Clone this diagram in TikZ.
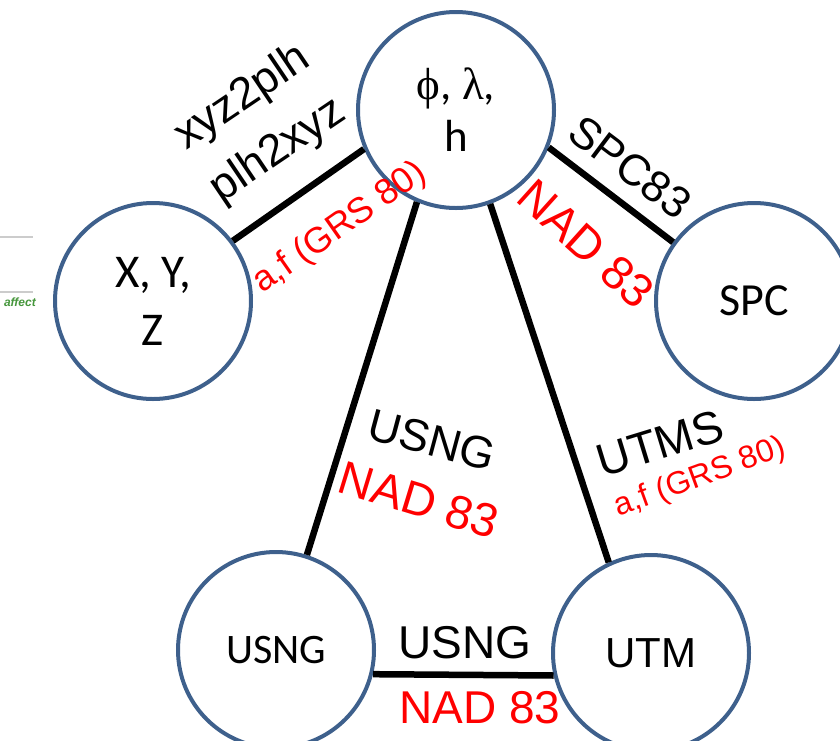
\documentclass[tikz,border=0pt]{standalone}
\usepackage{fontspec}
\setmainfont{Liberation Sans}
\newfontfamily\calfont{Carlito}
\newfontfamily\grkfont{Liberation Serif}
\usetikzlibrary{positioning}
\definecolor{ringblue}{RGB}{62,96,140}
\definecolor{scrapgreen}{RGB}{70,150,60}

\begin{document}
\begin{tikzpicture}[x=1pt, y=-1pt,
  station/.style={circle, draw=ringblue, line width=4pt, minimum size=196pt,
    inner sep=0pt, align=center},
  link/.style={line width=6.5pt},
  lbl/.style={inner sep=0pt, font=\fontsize{44}{44}\selectfont},
  note/.style={lbl, text=red}]
  \useasboundingbox (0,0) rectangle (840,740);

  % bits of the page behind, cut off at the left
  \draw[black!20, line width=2pt] (0,237) -- (33,237);
  \draw[black!20, line width=2pt] (0,292) -- (33,292);
  \node[text=scrapgreen, font=\fontsize{12}{12}\selectfont\bfseries\itshape,
    anchor=east, inner sep=0pt] (scrap) at (36,302) {affect};

  % Stations
  \node[station, font=\fontsize{45}{52}\selectfont\calfont] (geo) at (456,110)
    {{\grkfont ϕ}, {\grkfont λ},\\h};
  \node[station, font=\fontsize{47}{58}\selectfont\calfont] (xyz) at (153,301)
    {X, Y,\\Z};
  \node[station, font=\fontsize{46}{46}\selectfont\calfont] (spc) at (754,301) {SPC};
  \node[station, font=\fontsize{42}{42}\selectfont\calfont] (usng) at (276,650) {USNG};
  \node[station, font=\fontsize{42}{42}\selectfont] (utm) at (651,653) {UTM};

  % Links
  \foreach \a/\b in {xyz.37/geo.203, geo.-22/spc.144, geo.247/usng.72,
                     geo.-70/utm.115, usng.-14/utm.193}
    \draw[link] (\a) -- (\b);

  % Link labels
  \node[lbl, font=\fontsize{45}{45}\selectfont, rotate=34] (xp1) at (243,98) {xyz2plh};
  \node[lbl, font=\fontsize{45}{45}\selectfont, rotate=34] (xp2) at (278,151) {plh2xyz};
  \node[note, font=\fontsize{36}{36}\selectfont, rotate=35] (xp3) at (340,228) {a,f (GRS 80)};

  \node[lbl, font=\fontsize{44}{44}\selectfont, rotate=-37] (sp1) at (630,167) {SPC83};
  \node[note, font=\fontsize{47}{47}\selectfont, rotate=-42] (sp2) at (586,244) {NAD 83};

  \node[lbl, font=\fontsize{45}{45}\selectfont, rotate=-15] (ug1) at (432,440) {USNG};
  \node[note, font=\fontsize{47}{47}\selectfont, rotate=-17] (ug2) at (419,500) {NAD 83};

  \node[lbl, font=\fontsize{46}{46}\selectfont, rotate=17] (ut1) at (660,443) {UTMS};
  \node[note, font=\fontsize{32}{32}\selectfont, rotate=20] (ut2) at (700,478) {a,f (GRS 80)};

  \node[lbl, font=\fontsize{46}{46}\selectfont] (bt1) at (465,643) {USNG};
  \node[note, font=\fontsize{46}{46}\selectfont] (bt2) at (480,708) {NAD 83};
\end{tikzpicture}
\end{document}
